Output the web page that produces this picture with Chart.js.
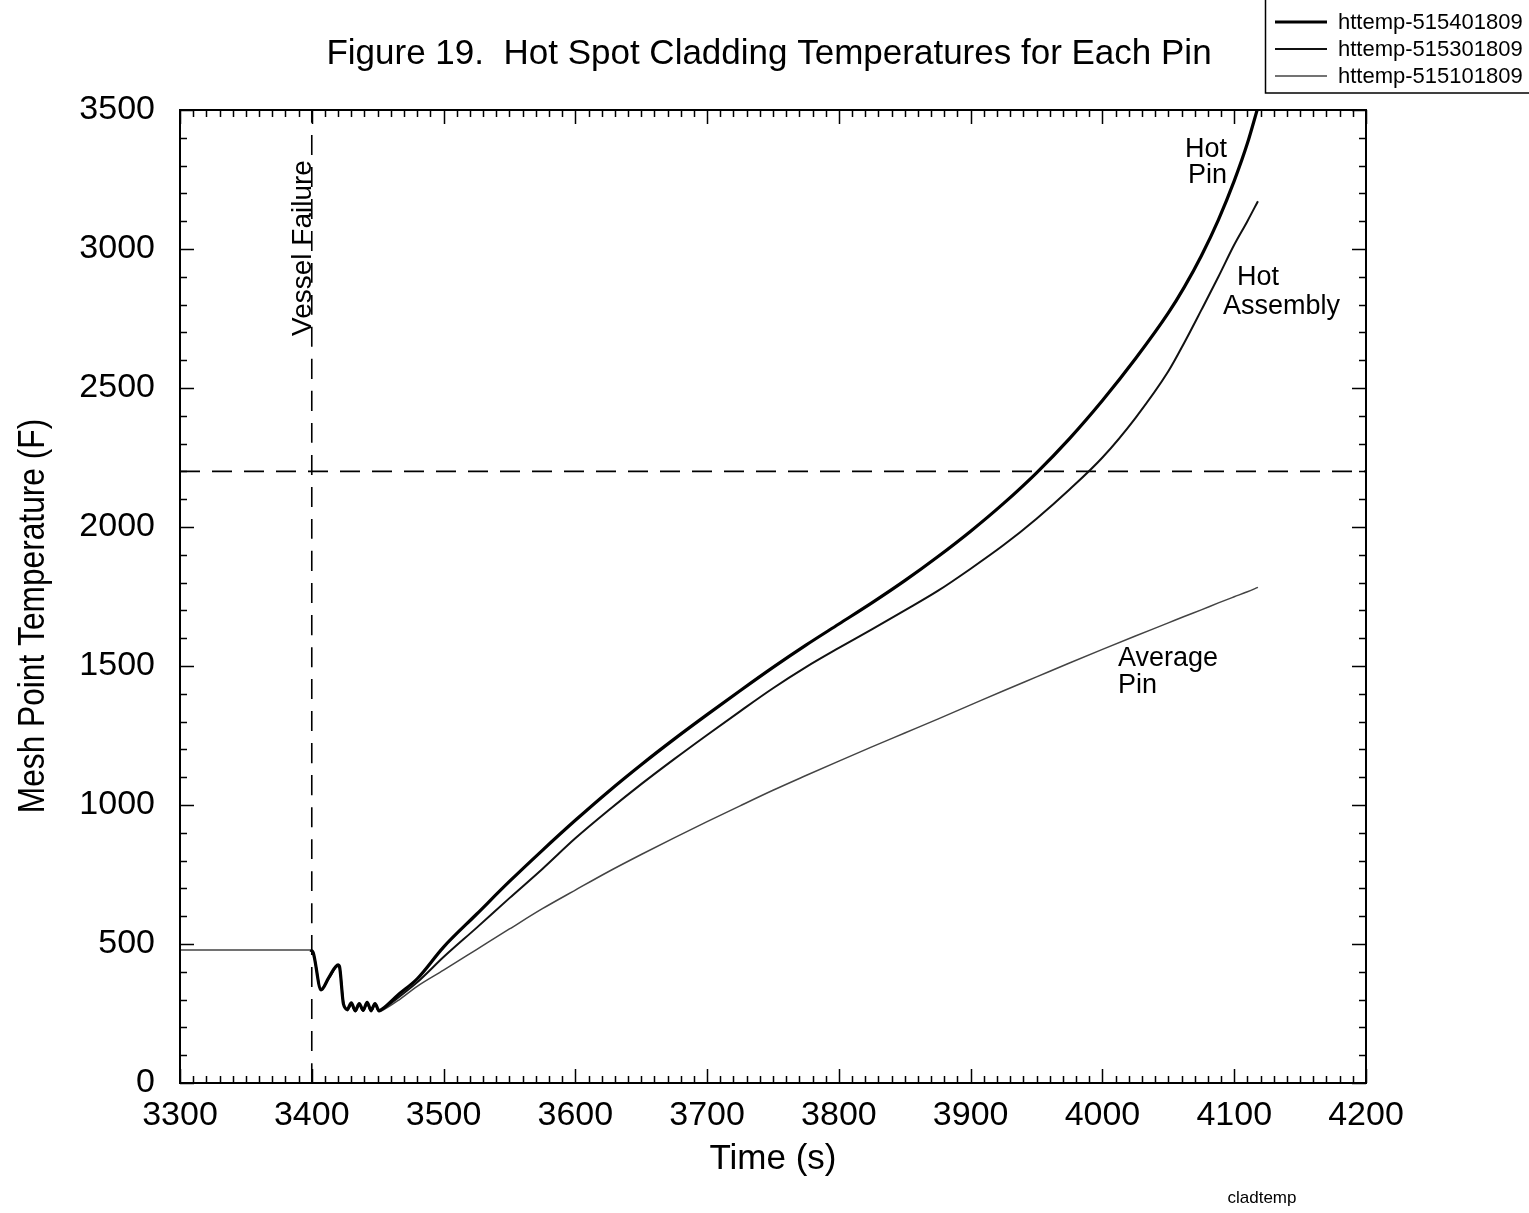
<!DOCTYPE html>
<html>
<head>
<meta charset="utf-8">
<title>Hot Spot Cladding Temperatures</title>
<script src="https://cdn.jsdelivr.net/npm/chart.js@4.4.0/dist/chart.umd.min.js"></script>
<style>
  html, body { margin: 0; padding: 0; background: #fff; }
  #wrap { width: 1529px; height: 1213px; position: relative; }
</style>
</head>
<body>
<div id="wrap"><canvas id="cladChart"></canvas></div>
<script>
// time axis shared by the three pins (s)
const timeSec = [3300, 3399, 3401, 3407, 3413, 3420, 3421, 3424, 3427, 3430, 3433, 3436, 3439, 3442, 3445, 3448, 3451, 3454, 3465, 3480,
  3500, 3525, 3550, 3575, 3600, 3625, 3650, 3675, 3700, 3725, 3750, 3775, 3800, 3825, 3850, 3875, 3900, 3925, 3950, 3975,
  4000, 4025, 4050, 4062, 4075, 4088, 4100, 4110, 4118];

// cladding temperatures (F)
const hotPin = [null, 478, 470, 335, 380, 425, 420, 285, 266, 288, 260, 286, 262, 290, 262, 286, 260, 268, 315, 375,
  489, 607, 725, 837, 945, 1048, 1145, 1237, 1325, 1411, 1495, 1575, 1651, 1727, 1807, 1893, 1985, 2085, 2195, 2318,
  2455, 2605, 2770, 2862, 2975, 3105, 3245, 3380, 3510];
const hotAssembly = [null, 478, 470, 338, 378, 422, 418, 290, 262, 284, 258, 282, 260, 286, 258, 284, 258, 266, 305, 362,
  453, 558, 665, 770, 880, 980, 1075, 1165, 1252, 1337, 1420, 1496, 1565, 1632, 1700, 1770, 1850, 1935, 2030, 2135,
  2250, 2392, 2560, 2662, 2780, 2900, 3015, 3100, 3172];
const averagePin = [478, 478, 470, 336, 376, 420, 416, 288, 260, 282, 256, 280, 258, 284, 256, 282, 256, 262, 295, 348,
  406, 480, 554, 627, 694, 760, 822, 882, 940, 997, 1053, 1106, 1158, 1209, 1259, 1309, 1360, 1411, 1461, 1511,
  1560, 1608, 1655, 1678, 1702, 1727, 1749, 1767, 1783];

const seriesNames = ['httemp-515401809', 'httemp-515301809', 'httemp-515101809'];
const curveLabels = [['Hot', 'Pin'], ['Hot', 'Assembly'], ['Average', 'Pin']];

// reference lines
const vesselFailureTime = 3400;
const limitTemp = 2200;

// axis ranges and ticks
const xMin = 3300, xMax = 4200, xMajor = 100, xMinor = 10;
const yMin = 0, yMax = 3500, yMajor = 500, yMinor = 100;

const FONT = '"Liberation Sans", Arial, Helvetica, sans-serif';

function toPoints(vals) {
  return timeSec.map((t, i) => ({ x: t, y: vals[i] }));
}

// frame, inward ticks, titles, legend and curve labels
const decorations = {
  id: 'decorations',
  beforeDraw(chart) {
    const ctx = chart.ctx;
    ctx.save();
    ctx.fillStyle = '#fff';
    ctx.fillRect(0, 0, chart.width, chart.height);
    ctx.restore();
  },
  afterDraw(chart) {
    const { ctx, chartArea: a, scales: { x, y } } = chart;
    ctx.save();
    ctx.strokeStyle = '#000';
    ctx.lineWidth = 2;
    ctx.strokeRect(a.left, a.top, a.right - a.left, a.bottom - a.top);

    ctx.lineWidth = 1.5;
    ctx.beginPath();
    for (let t = xMin; t <= xMax; t += xMinor) {
      const px = Math.round(x.getPixelForValue(t)) + 0.5;
      const len = t % xMajor === 0 ? 14 : 7;
      ctx.moveTo(px, a.bottom); ctx.lineTo(px, a.bottom - len);
      ctx.moveTo(px, a.top); ctx.lineTo(px, a.top + len);
    }
    for (let v = yMin; v <= yMax; v += yMinor) {
      const py = Math.round(y.getPixelForValue(v)) + 0.5;
      const len = v % yMajor === 0 ? 14 : 7;
      ctx.moveTo(a.left, py); ctx.lineTo(a.left + len, py);
      ctx.moveTo(a.right, py); ctx.lineTo(a.right - len, py);
    }
    ctx.stroke();

    // title
    ctx.fillStyle = '#000';
    ctx.textBaseline = 'middle';
    ctx.textAlign = 'center';
    ctx.font = '35px ' + FONT;
    ctx.fillText('Figure 19.  Hot Spot Cladding Temperatures for Each Pin', 769, 54);

    // y axis title, slightly condensed
    ctx.save();
    ctx.translate(34, 616);
    ctx.rotate(-Math.PI / 2);
    ctx.scale(0.88, 1);
    ctx.font = '36px ' + FONT;
    ctx.fillText('Mesh Point Temperature (F)', 0, 0);
    ctx.restore();

    // legend box
    ctx.lineWidth = 1.5;
    ctx.strokeRect(1265.5, -2, 266, 95);
    const legY = [22, 49, 76];
    const ds = chart.data.datasets;
    ctx.textAlign = 'left';
    ctx.font = '22px ' + FONT;
    for (let i = 0; i < 3; i++) {
      ctx.strokeStyle = ds[i].borderColor;
      ctx.lineWidth = ds[i].borderWidth;
      ctx.beginPath();
      ctx.moveTo(1275, legY[i]);
      ctx.lineTo(1327, legY[i]);
      ctx.stroke();
      ctx.fillText(seriesNames[i], 1338, legY[i] + 1);
    }

    // curve labels
    ctx.font = '27px ' + FONT;
    ctx.textAlign = 'right';
    ctx.fillText(curveLabels[0][0], 1227, 150);
    ctx.fillText(curveLabels[0][1], 1227, 176);
    ctx.textAlign = 'left';
    ctx.fillText(curveLabels[1][0], 1237, 278);
    ctx.fillText(curveLabels[1][1], 1223, 307);
    ctx.fillText(curveLabels[2][0], 1118, 659);
    ctx.fillText(curveLabels[2][1], 1118, 686);

    // vessel failure marker text
    ctx.save();
    ctx.translate(311, 336);
    ctx.rotate(-Math.PI / 2);
    ctx.textBaseline = 'alphabetic';
    ctx.font = '28px ' + FONT;
    ctx.fillText('Vessel Failure', 0, 0);
    ctx.restore();

    ctx.textAlign = 'center';
    ctx.font = '17px ' + FONT;
    ctx.fillText('cladtemp', 1262, 1198);
    ctx.restore();
  }
};

const ctx = document.getElementById('cladChart').getContext('2d');
new Chart(ctx, {
  type: 'line',
  data: {
    datasets: [
      { label: seriesNames[0], data: toPoints(hotPin), borderColor: '#000', borderWidth: 3.2 },
      { label: seriesNames[1], data: toPoints(hotAssembly), borderColor: '#111', borderWidth: 2 },
      { label: seriesNames[2], data: toPoints(averagePin), borderColor: '#444', borderWidth: 1.5 },
      { label: 'vessel', data: [{ x: vesselFailureTime, y: yMin }, { x: vesselFailureTime, y: yMax }],
        borderColor: '#000', borderWidth: 1.6, borderDash: [20, 12] },
      { label: 'limit', data: [{ x: xMin, y: limitTemp }, { x: xMax, y: limitTemp }],
        borderColor: '#000', borderWidth: 1.6, borderDash: [20, 12] }
    ]
  },
  options: {
    responsive: true,
    maintainAspectRatio: false,
    animation: false,
    layout: { padding: { left: 0, top: 110, right: 163, bottom: 0 } },
    elements: {
      point: { radius: 0 },
      line: { cubicInterpolationMode: 'monotone', fill: false }
    },
    plugins: { legend: { display: false }, tooltip: { enabled: false }, title: { display: false } },
    scales: {
      x: {
        type: 'linear', min: xMin, max: xMax,
        grid: { display: false, drawTicks: false },
        border: { display: false },
        ticks: { stepSize: xMajor, autoSkip: false, maxRotation: 0, padding: 12, color: '#000',
          font: { family: FONT, size: 34 }, callback: v => String(v) },
        title: { display: true, text: 'Time (s)', color: '#000', font: { family: FONT, size: 35 }, padding: { top: 33, bottom: 33 } },
        afterFit(scale) { scale.height = 130; }
      },
      y: {
        type: 'linear', min: yMin, max: yMax,
        grid: { display: false, drawTicks: false },
        border: { display: false },
        ticks: { stepSize: yMajor, padding: 25, color: '#000', font: { family: FONT, size: 34 }, callback: v => String(v) },
        afterFit(scale) { scale.width = 180; }
      }
    }
  },
  plugins: [decorations]
});
</script>
</body>
</html>
